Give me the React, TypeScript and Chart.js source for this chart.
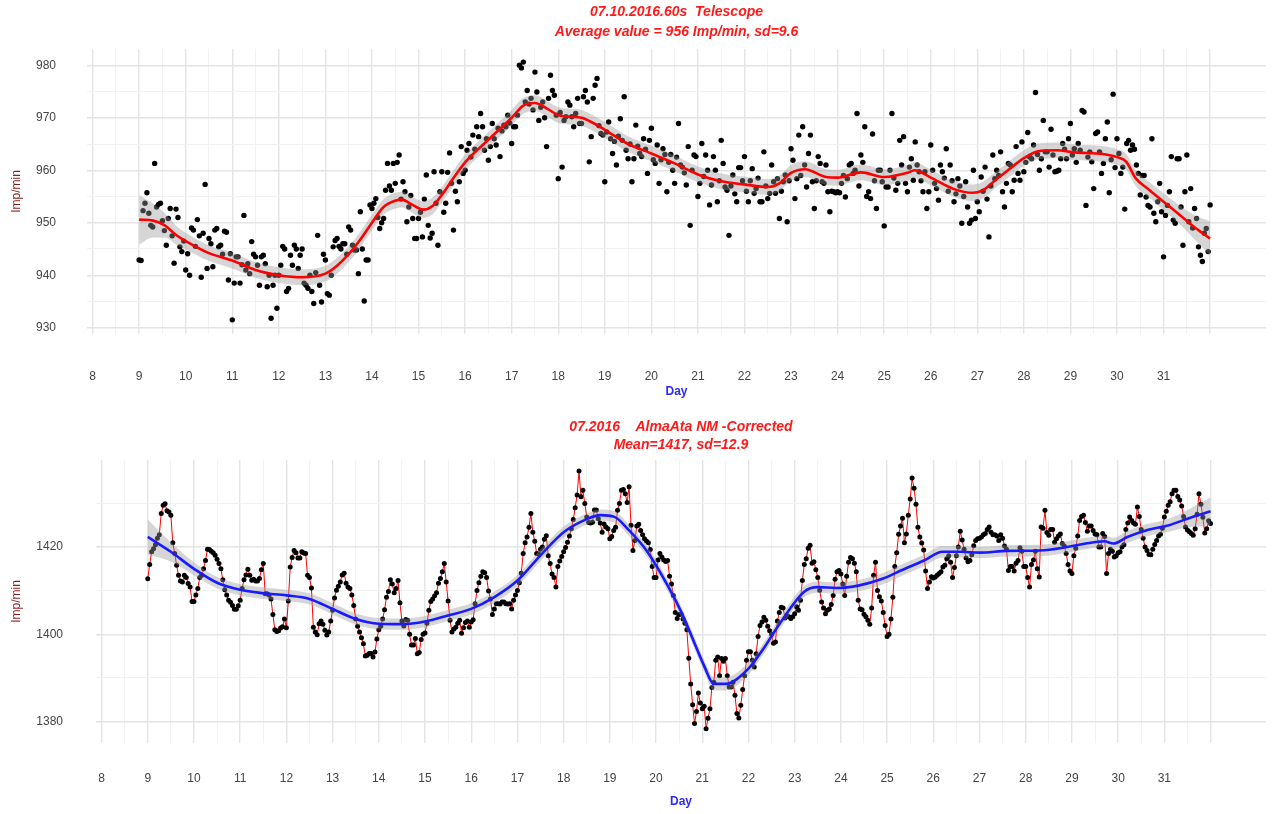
import React, { useEffect, useRef } from 'react';
import { Chart, registerables } from 'chart.js';

Chart.register(...registerables);

// Hourly series, starting at 00:00 on day 9 of July 2016.
const FIRST_DAY = 9;
const SAMPLES_PER_DAY = 24;

// ---- Telescope, count rate (Imp/min) ----
const telescopeValues = [
  942.9, 942.8, 952.3, 953.7, 955.7, 951.8, 949.5, 949.2, 961.3, 953.0, 953.5, 953.7, 950.4, 948.5, 945.7, 950.8, 952.7, 947.5, 942.3, 952.6, 951.0, 945.4, 944.5, 946.5, // 9
  941.0, 944.1, 940.0, 949.0, 948.6, 945.5, 950.6, 947.5, 939.6, 948.0, 957.3, 941.3, 947.0, 946.0, 941.6, 948.6, 948.9, 945.4, 945.7, 944.0, 948.4, 948.2, 939.1, 944.1, // 10
  931.5, 938.5, 943.5, 943.5, 938.5, 942.0, 951.4, 941.0, 942.2, 940.3, 946.4, 944.0, 943.5, 941.9, 938.1, 943.5, 943.8, 942.2, 937.8, 940.0, 931.8, 938.1, 940.0, 933.7, // 11
  940.0, 941.9, 945.5, 945.0, 936.9, 937.5, 943.8, 941.9, 945.7, 945.0, 941.3, 943.8, 945.0, 938.5, 938.1, 937.5, 940.0, 936.9, 934.6, 940.5, 947.6, 938.1, 934.9, 944.0, // 12
  942.9, 936.5, 936.2, 940.0, 945.4, 946.6, 947.0, 945.5, 945.0, 946.0, 946.0, 944.0, 949.2, 948.6, 945.7, 944.8, 944.8, 940.3, 952.1, 945.0, 935.1, 942.9, 942.9, 953.4, // 13
  952.7, 953.7, 954.6, 951.0, 948.9, 950.0, 950.8, 956.2, 961.3, 957.0, 956.2, 961.3, 957.5, 961.5, 962.9, 954.5, 957.8, 955.9, 950.2, 953.0, 955.2, 950.8, 947.0, 947.0, // 14
  950.8, 952.0, 947.3, 954.5, 959.1, 949.5, 947.1, 948.0, 959.7, 953.7, 945.7, 955.9, 959.7, 952.0, 953.7, 959.6, 963.3, 957.5, 948.6, 956.0, 954.0, 957.8, 964.5, 959.4, // 15
  960.0, 963.8, 965.1, 962.5, 966.7, 964.0, 968.3, 966.4, 970.8, 968.3, 963.8, 966.0, 961.9, 964.5, 968.9, 966.0, 964.8, 968.0, 962.6, 967.5, 968.6, 968.3, 970.5, 969.0, // 16
  965.1, 968.3, 968.3, 970.5, 980.0, 979.5, 980.6, 973.0, 975.2, 972.6, 973.7, 971.5, 978.7, 974.9, 969.5, 972.0, 973.0, 970.0, 964.5, 973.7, 978.1, 975.2, 974.3, 970.5, // 17
  958.4, 971.0, 960.6, 969.5, 970.2, 973.0, 972.4, 970.2, 968.3, 970.8, 973.7, 968.9, 968.9, 974.0, 975.2, 973.0, 961.6, 966.4, 973.7, 976.2, 977.5, 968.5, 967.0, 966.7, // 18
  957.8, 967.3, 969.2, 966.0, 963.2, 965.5, 961.0, 966.5, 969.8, 965.7, 974.0, 963.8, 962.2, 965.0, 957.8, 962.2, 968.6, 964.6, 963.2, 962.6, 966.0, 964.0, 959.4, 965.7, // 19
  968.0, 962.0, 961.3, 964.8, 957.5, 962.0, 964.1, 963.0, 955.9, 961.5, 963.0, 960.0, 957.5, 962.5, 968.9, 961.0, 960.6, 959.5, 957.2, 964.5, 949.5, 960.0, 962.9, 962.6, // 20
  955.0, 957.5, 965.1, 958.8, 962.9, 960.0, 953.4, 957.2, 962.6, 960.0, 954.0, 958.0, 965.7, 961.3, 956.8, 956.2, 947.6, 957.0, 959.1, 955.5, 954.0, 960.5, 960.5, 958.0, // 21
  962.6, 956.0, 954.0, 958.0, 960.3, 955.6, 956.5, 958.5, 954.0, 954.0, 963.5, 957.0, 954.6, 955.6, 961.0, 957.8, 955.6, 958.4, 950.8, 956.0, 957.8, 959.1, 950.2, 958.0, // 22
  964.1, 961.9, 954.6, 958.4, 966.7, 959.0, 968.3, 961.0, 956.8, 963.2, 966.7, 957.8, 952.7, 958.0, 962.6, 961.3, 957.8, 957.5, 961.0, 955.9, 952.1, 956.0, 955.9, 955.7, // 23
  955.9, 955.7, 957.5, 959.0, 954.9, 958.4, 961.0, 961.3, 959.4, 960.0, 970.8, 957.0, 962.9, 961.5, 968.3, 955.0, 955.9, 954.6, 966.9, 958.0, 952.7, 960.0, 960.0, 957.8, // 24
  949.4, 956.8, 956.8, 960.0, 970.8, 958.5, 956.2, 957.5, 965.7, 961.0, 966.4, 957.5, 955.9, 960.6, 962.2, 958.1, 965.4, 961.0, 959.7, 958.0, 955.9, 959.7, 952.7, 955.9, // 25
  964.8, 960.0, 957.5, 956.5, 954.3, 961.0, 959.7, 958.5, 964.1, 956.0, 961.0, 958.0, 954.0, 955.5, 958.4, 957.0, 949.9, 955.0, 957.8, 953.0, 949.9, 950.5, 960.0, 950.8, // 26
  954.0, 952.1, 958.7, 956.0, 960.6, 954.5, 947.3, 957.0, 962.9, 958.4, 960.0, 959.0, 963.5, 955.9, 953.0, 957.5, 961.3, 961.0, 955.9, 958.1, 964.5, 959.4, 958.1, 965.4, // 27
  959.7, 961.5, 967.2, 962.5, 962.2, 964.8, 974.8, 963.0, 960.0, 962.2, 969.5, 963.5, 963.5, 960.6, 967.8, 962.9, 959.7, 959.8, 960.0, 962.2, 965.1, 964.0, 962.2, 966.0, // 28
  968.9, 962.9, 964.1, 961.5, 965.1, 963.8, 971.4, 971.1, 953.3, 962.5, 963.5, 961.6, 956.5, 967.0, 967.3, 963.5, 959.4, 961.3, 966.0, 969.2, 955.7, 962.0, 974.5, 960.5, // 29
  966.0, 963.2, 959.4, 960.6, 952.6, 965.1, 965.7, 963.8, 964.8, 964.0, 961.0, 959.4, 955.3, 959.0, 959.0, 954.9, 953.3, 953.0, 966.0, 951.8, 950.2, 954.0, 957.5, 952.1, // 30
  943.5, 951.4, 953.3, 955.9, 962.6, 950.5, 949.9, 962.2, 962.2, 953.0, 945.7, 955.9, 962.9, 950.2, 956.5, 949.0, 952.7, 950.8, 945.4, 943.8, 942.6, 948.0, 948.9, 944.5, // 31
  953.4,
];

// loess trend of the telescope series and half-width of its confidence band
const telescopeSmoothDays = [
  9.0, 9.3, 9.55, 9.8, 10.0, 10.5, 11.0, 11.5, 12.0, 12.5, 13.0, 13.25, 13.5, 13.75,
  14.0, 14.25, 14.5, 14.65, 14.85, 15.1, 15.3, 15.5, 15.75, 16.0, 16.5, 17.0, 17.25,
  17.5, 17.75, 18.0, 18.25, 18.5, 18.75, 19.0, 19.5, 20.0, 20.5, 21.0, 21.5, 22.0,
  22.5, 22.75, 23.0, 23.3, 23.75, 24.0, 24.5, 25.0, 25.5, 25.65, 26.0, 26.5, 26.9,
  27.1, 27.4, 27.7, 28.0, 28.3, 28.7, 29.1, 29.7, 30.0, 30.2, 30.4, 30.7, 31.0, 31.4,
  31.7, 32.0,
];
const telescopeSmoothValues = [
  950.6, 950.4, 949.5, 947.6, 946.5, 944.2, 942.8, 941.0, 940.0, 939.6, 940.3, 941.8, 944.0, 946.8,
  950.0, 953.0, 954.2, 954.4, 953.5, 952.5, 953.2, 955.3, 958.5, 961.5, 965.8, 970.0, 972.3,
  972.8, 971.8, 970.5, 970.2, 970.0, 969.0, 967.7, 965.0, 963.2, 961.3, 959.2, 957.9, 957.3,
  956.8, 957.5, 959.5, 960.2, 958.7, 958.6, 959.6, 958.7, 959.5, 960.0, 958.6, 956.4, 955.7,
  956.1, 958.2, 960.3, 962.3, 963.6, 963.8, 963.4, 963.1, 962.5, 961.6, 958.5, 956.2, 954.0, 951.1,
  948.9, 947.0,
];
const telescopeBandHalfWidth = [
  4.7, 3.2, 2.3, 1.8, 1.6, 1.5, 1.5, 1.5, 1.5, 1.5, 1.5, 1.5, 1.5, 1.5,
  1.5, 1.5, 1.5, 1.5, 1.5, 1.6, 1.6, 1.5, 1.5, 1.5, 1.5, 1.5, 1.5,
  1.5, 1.5, 1.5, 1.5, 1.5, 1.5, 1.5, 1.5, 1.5, 1.5, 1.5, 1.5, 1.5,
  1.5, 1.5, 1.5, 1.5, 1.5, 1.5, 1.5, 1.5, 1.5, 1.5, 1.5, 1.5, 1.6,
  1.6, 1.5, 1.5, 1.5, 1.5, 1.5, 1.5, 1.5, 1.5, 1.5, 1.5, 1.5, 1.6, 1.8,
  2.4, 3.3,
];

// ---- Alma-Ata neutron monitor, corrected count rate (Imp/min) ----
const almaAtaValues = [
  1412.7, 1416.0, 1418.9, 1419.6, 1420.5, 1422.0, 1422.8, 1427.7, 1429.6, 1429.9, 1428.3, 1428.0, 1427.3, 1421.0, 1418.5, 1415.8, 1413.5, 1412.2, 1412.0, 1413.5, 1413.0, 1411.6, 1410.8, 1407.5, // 9
  1407.5, 1409.0, 1410.5, 1413.0, 1413.5, 1415.0, 1416.9, 1419.5, 1419.4, 1419.0, 1418.7, 1418.1, 1417.2, 1416.2, 1415.0, 1412.5, 1410.2, 1409.0, 1407.8, 1407.3, 1406.6, 1405.7, 1405.7, 1406.5, // 10
  1407.8, 1410.5, 1412.5, 1413.6, 1414.9, 1413.5, 1412.4, 1412.6, 1412.2, 1412.2, 1412.8, 1414.8, 1416.2, 1409.3, 1409.3, 1409.0, 1408.1, 1404.5, 1401.0, 1400.6, 1400.8, 1401.4, 1401.7, 1403.5, // 11
  1401.5, 1407.6, 1415.4, 1417.6, 1419.2, 1418.7, 1417.5, 1417.5, 1418.9, 1418.6, 1418.5, 1413.5, 1413.0, 1410.6, 1401.6, 1400.5, 1399.9, 1402.4, 1403.0, 1402.3, 1400.9, 1399.8, 1400.5, 1403.0, // 12
  1405.5, 1408.3, 1410.1, 1411.0, 1412.0, 1413.6, 1414.0, 1411.7, 1410.8, 1410.5, 1409.0, 1406.6, 1403.5, 1401.8, 1400.5, 1399.2, 1397.8, 1395.0, 1395.2, 1395.6, 1395.6, 1394.8, 1395.9, 1398.9, // 13
  1401.0, 1401.8, 1403.5, 1405.6, 1408.5, 1409.8, 1412.5, 1411.5, 1409.5, 1410.5, 1412.3, 1407.2, 1403.0, 1401.9, 1403.4, 1403.2, 1400.0, 1397.5, 1397.5, 1399.0, 1395.5, 1395.8, 1398.8, 1400.0, // 14
  1400.3, 1402.5, 1405.5, 1407.5, 1408.1, 1408.8, 1409.5, 1411.7, 1412.8, 1414.3, 1416.2, 1412.0, 1407.6, 1403.2, 1400.5, 1401.2, 1401.6, 1402.5, 1403.2, 1400.2, 1401.5, 1402.7, 1403.0, 1401.6, // 15
  1402.8, 1403.3, 1407.0, 1410.0, 1411.8, 1413.3, 1414.3, 1414.1, 1413.0, 1409.9, 1408.1, 1404.5, 1405.8, 1407.0, 1407.0, 1406.9, 1407.4, 1407.4, 1407.0, 1406.9, 1407.0, 1405.8, 1407.8, 1409.0, // 16
  1410.0, 1411.8, 1414.0, 1418.5, 1421.0, 1422.3, 1424.5, 1427.7, 1423.4, 1421.3, 1418.5, 1418.4, 1419.5, 1420.0, 1421.8, 1422.6, 1418.0, 1416.2, 1413.8, 1413.0, 1410.8, 1415.5, 1416.8, 1417.8, // 17
  1418.9, 1419.9, 1421.1, 1422.5, 1424.2, 1426.3, 1429.0, 1431.9, 1437.4, 1431.5, 1433.0, 1430.0, 1426.9, 1425.6, 1425.5, 1425.7, 1428.5, 1428.5, 1426.5, 1425.5, 1423.4, 1425.3, 1424.6, 1424.2, // 18
  1421.9, 1422.4, 1423.8, 1424.5, 1428.4, 1430.0, 1433.0, 1433.2, 1432.2, 1430.2, 1433.8, 1425.0, 1419.2, 1421.5, 1424.8, 1425.2, 1423.8, 1422.8, 1421.9, 1421.4, 1421.0, 1419.4, 1415.5, 1413.0, // 19
  1413.0, 1417.0, 1418.5, 1417.7, 1417.0, 1416.7, 1416.9, 1413.3, 1411.5, 1408.9, 1405.0, 1403.6, 1404.5, 1404.6, 1403.5, 1402.5, 1401.0, 1394.5, 1388.6, 1383.8, 1379.5, 1382.3, 1386.5, 1384.2, // 20
  1382.9, 1383.5, 1378.3, 1380.7, 1382.9, 1387.8, 1389.0, 1394.0, 1394.8, 1390.5, 1394.4, 1393.8, 1394.4, 1390.5, 1387.9, 1387.9, 1389.0, 1386.0, 1381.8, 1380.8, 1383.7, 1387.3, 1390.5, 1394.0, // 21
  1396.0, 1396.0, 1394.0, 1392.5, 1395.5, 1399.5, 1402.0, 1402.8, 1403.9, 1403.2, 1401.8, 1400.8, 1400.0, 1397.9, 1398.2, 1403.0, 1405.0, 1406.2, 1406.0, 1403.7, 1404.3, 1404.0, 1403.6, 1404.0, // 22
  1404.7, 1406.3, 1405.5, 1407.8, 1412.3, 1416.0, 1417.3, 1419.7, 1420.4, 1416.3, 1416.6, 1414.8, 1413.0, 1410.1, 1407.4, 1406.0, 1404.7, 1405.5, 1405.8, 1406.8, 1408.9, 1412.6, 1414.3, 1414.6, // 23
  1413.8, 1411.5, 1408.9, 1413.3, 1416.5, 1417.6, 1417.3, 1416.3, 1414.3, 1407.8, 1405.8, 1405.6, 1404.6, 1404.0, 1403.2, 1402.3, 1406.0, 1413.5, 1416.5, 1410.0, 1408.6, 1407.6, 1405.0, 1402.0, // 24
  1399.5, 1400.0, 1403.5, 1408.5, 1415.5, 1418.7, 1422.9, 1424.8, 1426.6, 1421.0, 1423.0, 1427.3, 1431.0, 1435.8, 1433.5, 1429.8, 1424.5, 1422.3, 1420.9, 1419.3, 1414.5, 1410.5, 1412.0, 1413.2, // 25
  1412.9, 1413.1, 1413.5, 1413.9, 1414.3, 1415.4, 1415.8, 1417.3, 1418.0, 1416.5, 1413.0, 1415.3, 1418.0, 1420.0, 1423.6, 1421.6, 1419.5, 1417.5, 1416.6, 1416.9, 1418.2, 1420.3, 1421.5, 1421.9, // 26
  1422.0, 1422.3, 1422.8, 1423.1, 1424.0, 1424.6, 1423.4, 1422.8, 1422.8, 1422.5, 1421.5, 1422.8, 1422.0, 1420.2, 1419.5, 1414.6, 1415.5, 1415.5, 1414.5, 1416.3, 1416.9, 1419.8, 1419.0, 1415.5, // 27
  1415.5, 1413.0, 1410.8, 1416.0, 1417.0, 1419.0, 1415.0, 1413.1, 1424.6, 1424.3, 1428.4, 1423.3, 1422.7, 1424.0, 1424.0, 1421.1, 1421.9, 1422.5, 1423.0, 1420.8, 1420.2, 1418.5, 1416.0, 1414.5, // 28
  1413.9, 1418.0, 1419.7, 1422.5, 1426.1, 1427.0, 1427.3, 1425.6, 1423.6, 1424.8, 1424.8, 1423.8, 1423.0, 1422.8, 1420.0, 1420.0, 1423.1, 1422.4, 1413.9, 1418.5, 1419.5, 1419.0, 1417.7, 1418.0, // 29
  1418.7, 1418.9, 1420.0, 1420.5, 1424.0, 1425.5, 1426.9, 1426.1, 1425.5, 1425.2, 1429.2, 1427.0, 1424.0, 1422.0, 1420.0, 1419.2, 1418.3, 1418.2, 1419.5, 1420.6, 1421.5, 1422.5, 1422.9, 1424.3, // 30
  1426.9, 1428.2, 1429.6, 1430.4, 1432.2, 1433.0, 1433.0, 1431.6, 1430.8, 1429.4, 1427.0, 1424.6, 1423.9, 1423.5, 1423.1, 1422.7, 1424.2, 1427.5, 1432.2, 1429.8, 1426.8, 1423.2, 1424.2, 1426.0, // 31
  1425.4,
];

const almaSmoothDays = [
  9.0, 9.5, 10.0, 10.5, 11.0, 11.5, 12.0, 12.5, 13.0, 13.5, 14.0, 14.5, 15.0, 15.5,
  16.0, 16.5, 17.0, 17.5, 18.0, 18.5, 18.8, 19.1, 19.4, 19.8, 20.25, 20.55, 20.83,
  21.05, 21.25, 21.5, 22.0, 22.3, 22.7, 23.2, 23.5, 23.9, 24.4, 24.9, 25.3, 25.8,
  26.2, 26.6, 27.0, 27.6, 28.3, 28.9, 29.3, 29.7, 29.9, 30.2, 30.6, 31.1, 31.5, 32.0,
];
const almaSmoothValues = [
  1422.3, 1418.9, 1415.0, 1411.8, 1410.2, 1409.4, 1408.9, 1408.1, 1405.8, 1403.5, 1402.4, 1402.3, 1402.9, 1404.3,
  1405.8, 1408.5, 1412.3, 1418.1, 1423.4, 1426.4, 1427.3, 1426.9, 1424.0, 1419.1, 1411.2, 1405.0, 1398.0,
  1392.5, 1388.6, 1388.6, 1392.1, 1396.3, 1402.8, 1409.7, 1410.8, 1410.6, 1411.2, 1412.7, 1414.6, 1416.9,
  1418.9, 1418.9, 1418.7, 1419.1, 1419.2, 1420.0, 1420.8, 1421.3, 1420.8, 1422.3, 1423.8, 1425.0, 1426.5, 1428.2,
];
const almaBandHalfWidth = [
  4.0, 2.2, 1.5, 1.3, 1.3, 1.3, 1.3, 1.3, 1.3, 1.3, 1.3, 1.3, 1.3, 1.3,
  1.3, 1.3, 1.3, 1.3, 1.3, 1.3, 1.3, 1.3, 1.3, 1.3, 1.3, 1.3, 1.4,
  1.4, 1.5, 1.5, 1.4, 1.3, 1.3, 1.3, 1.3, 1.3, 1.3, 1.3, 1.3, 1.3,
  1.3, 1.3, 1.3, 1.3, 1.3, 1.3, 1.3, 1.3, 1.3, 1.4, 1.4, 1.5, 2.0, 3.2,
];

// ---- axis ticks and titles ----
const dayLabels = [8, 9, 10, 11, 12, 13, 14, 15, 16, 17, 18, 19, 20, 21, 22, 23, 24, 25, 26, 27, 28, 29, 30, 31];
const telescopeYTicks = [930, 935, 940, 945, 950, 955, 960, 965, 970, 975, 980];
const telescopeYLabels = [930, 940, 950, 960, 970, 980];
const almaYTicks = [1380, 1390, 1400, 1410, 1420, 1430];
const almaYLabels = [1380, 1400, 1420];

const telescopeTitle = ['07.10.2016.60s  Telescope', 'Average value = 956 Imp/min, sd=9.6'];
const almaTitle = ['07.2016    AlmaAta NM -Corrected', 'Mean=1417, sd=12.9'];

const WIDTH = 1273;
const FONT = "'Liberation Sans', Arial, Helvetica, sans-serif";
const MAJOR_GRID = '#e4e4e4';
const MINOR_GRID = '#f2f2f2';
const BAND_FILL = 'rgba(153,153,153,0.4)';

// vertical grid: whole days plus half days, up to day 32
const dayGrid: number[] = [];
dayLabels.forEach((d) => {
  dayGrid.push(d, d + 0.5);
});
dayGrid.push(32);

type PanelSpec = {
  top: number;
  height: number;
  plotTop: number;
  xAxisHeight: number;
  yAxisWidth: number;
  yMin: number;
  yMax: number;
  yTicks: number[];
  yLabels: number[];
  yMajor: (v: number) => boolean;
  values: number[];
  connect: boolean;
  pointRadius: number;
  smoothDays: number[];
  smoothValues: number[];
  bandHalf: number[];
  smoothColor: string;
  title: string[];
  titleY: number[];
  xTickPadding: number;
  yTickPadding: number;
  dayTitlePad: number;
};

const panelTitlePlugin = {
  id: 'panelTitle',
  afterDraw(chart: any, _args: any, opts: any) {
    const { ctx, chartArea } = chart;
    const cx = (chartArea.left + chartArea.right) / 2;
    ctx.save();
    ctx.fillStyle = '#ff1a1a';
    ctx.font = `italic bold 14px ${FONT}`;
    ctx.textAlign = 'center';
    ctx.textBaseline = 'middle';
    (opts.lines as string[]).forEach((t, i) => ctx.fillText(t, cx, opts.y[i]));
    ctx.restore();
  },
};

function buildConfig(p: PanelSpec): any {
  const observed = p.values.map((v, i) => ({ x: FIRST_DAY + i / SAMPLES_PER_DAY, y: v }));
  const smooth = p.smoothDays.map((d, i) => ({ x: d, y: p.smoothValues[i] }));
  const upper = p.smoothDays.map((d, i) => ({ x: d, y: p.smoothValues[i] + p.bandHalf[i] }));
  const lower = p.smoothDays.map((d, i) => ({ x: d, y: p.smoothValues[i] - p.bandHalf[i] }));
  const tickFont = { family: FONT, size: 12 };

  return {
    type: 'line',
    data: {
      datasets: [
        {
          label: 'trend',
          data: smooth,
          borderColor: p.smoothColor,
          borderWidth: 2.6,
          pointRadius: 0,
          cubicInterpolationMode: 'monotone',
          fill: false,
          order: 0,
        },
        {
          label: 'band upper',
          data: upper,
          borderColor: 'rgba(0,0,0,0)',
          borderWidth: 0,
          pointRadius: 0,
          cubicInterpolationMode: 'monotone',
          fill: false,
          order: 1,
        },
        {
          label: 'band lower',
          data: lower,
          borderColor: 'rgba(0,0,0,0)',
          borderWidth: 0,
          pointRadius: 0,
          cubicInterpolationMode: 'monotone',
          fill: '-1',
          backgroundColor: BAND_FILL,
          order: 1,
        },
        {
          label: 'observed',
          data: observed,
          showLine: p.connect,
          borderColor: '#ff0000',
          borderWidth: 1,
          tension: 0,
          pointRadius: p.pointRadius,
          pointBackgroundColor: '#000000',
          pointBorderWidth: 0,
          fill: false,
          order: 2,
        },
      ],
    },
    options: {
      responsive: false,
      animation: false,
      devicePixelRatio: 1,
      events: [],
      layout: { padding: { top: p.plotTop, right: 7, left: 0, bottom: 0 } },
      plugins: {
        legend: { display: false },
        tooltip: { enabled: false },
        panelTitle: { lines: p.title, y: p.titleY },
      },
      scales: {
        x: {
          type: 'linear',
          min: 7.88,
          max: 33.2,
          afterBuildTicks: (s: any) => {
            s.ticks = dayGrid.map((v) => ({ value: v }));
          },
          afterFit: (s: any) => {
            s.height = p.xAxisHeight;
          },
          grid: {
            drawTicks: false,
            color: (c: any) => (c.tick && Number.isInteger(c.tick.value) ? MAJOR_GRID : MINOR_GRID),
            lineWidth: (c: any) => (c.tick && Number.isInteger(c.tick.value) ? 1.4 : 1),
          },
          border: { display: false },
          ticks: {
            autoSkip: false,
            maxRotation: 0,
            padding: p.xTickPadding,
            color: '#444444',
            font: tickFont,
            callback: (v: number) => (dayLabels.includes(v) ? String(v) : ''),
          },
          title: {
            display: true,
            text: 'Day',
            color: '#2a2aff',
            font: { family: FONT, size: 12, weight: 'bold' },
            padding: { top: 0, bottom: p.dayTitlePad },
          },
        },
        y: {
          type: 'linear',
          min: p.yMin,
          max: p.yMax,
          afterBuildTicks: (s: any) => {
            s.ticks = p.yTicks.map((v) => ({ value: v }));
          },
          afterFit: (s: any) => {
            s.width = p.yAxisWidth;
          },
          grid: {
            drawTicks: false,
            color: (c: any) => (c.tick && p.yMajor(c.tick.value) ? MAJOR_GRID : MINOR_GRID),
            lineWidth: (c: any) => (c.tick && p.yMajor(c.tick.value) ? 1.4 : 1),
          },
          border: { display: false },
          ticks: {
            autoSkip: false,
            padding: p.yTickPadding,
            color: '#444444',
            font: tickFont,
            callback: (v: number) => (p.yLabels.includes(v) ? String(v) : ''),
          },
          title: {
            display: true,
            text: 'Imp/min',
            color: '#8b1a1a',
            font: { family: FONT, size: 12 },
            padding: { top: 9, bottom: 0 },
          },
        },
      },
    },
    plugins: [panelTitlePlugin],
  };
}

function PlotPanel({ spec }: { spec: PanelSpec }) {
  const ref = useRef<HTMLCanvasElement | null>(null);
  useEffect(() => {
    if (!ref.current) return;
    const chart = new Chart(ref.current, buildConfig(spec));
    return () => chart.destroy();
  }, [spec]);
  return (
    <canvas
      ref={ref}
      width={WIDTH}
      height={spec.height}
      style={{ position: 'absolute', left: 0, top: spec.top, width: WIDTH, height: spec.height, display: 'block' }}
    />
  );
}

const telescopePanel: PanelSpec = {
  top: 0,
  height: 410,
  plotTop: 49,
  xAxisHeight: 76,
  yAxisWidth: 87,
  yMin: 928.8,
  yMax: 983.1,
  yTicks: telescopeYTicks,
  yLabels: telescopeYLabels,
  yMajor: (v) => v % 10 === 0,
  values: telescopeValues,
  connect: false,
  pointRadius: 2.7,
  smoothDays: telescopeSmoothDays,
  smoothValues: telescopeSmoothValues,
  bandHalf: telescopeBandHalfWidth,
  smoothColor: '#ff0000',
  title: telescopeTitle,
  titleY: [12.5, 32],
  xTickPadding: 35,
  yTickPadding: 31,
  dayTitlePad: 11,
};

const almaPanel: PanelSpec = {
  top: 410,
  height: 404,
  plotTop: 50,
  xAxisHeight: 71,
  yAxisWidth: 96,
  yMin: 1375.05,
  yMax: 1439.95,
  yTicks: almaYTicks,
  yLabels: almaYLabels,
  yMajor: (v) => v % 20 === 0,
  values: almaAtaValues,
  connect: true,
  pointRadius: 2.5,
  smoothDays: almaSmoothDays,
  smoothValues: almaSmoothValues,
  bandHalf: almaBandHalfWidth,
  smoothColor: '#1a1aff',
  title: almaTitle,
  titleY: [17, 35.5],
  xTickPadding: 28,
  yTickPadding: 33,
  dayTitlePad: 5,
};

export default function App() {
  return (
    <div style={{ position: 'absolute', left: 0, top: 0, width: WIDTH, height: 814, background: '#ffffff' }}>
      <PlotPanel spec={telescopePanel} />
      <PlotPanel spec={almaPanel} />
    </div>
  );
}
